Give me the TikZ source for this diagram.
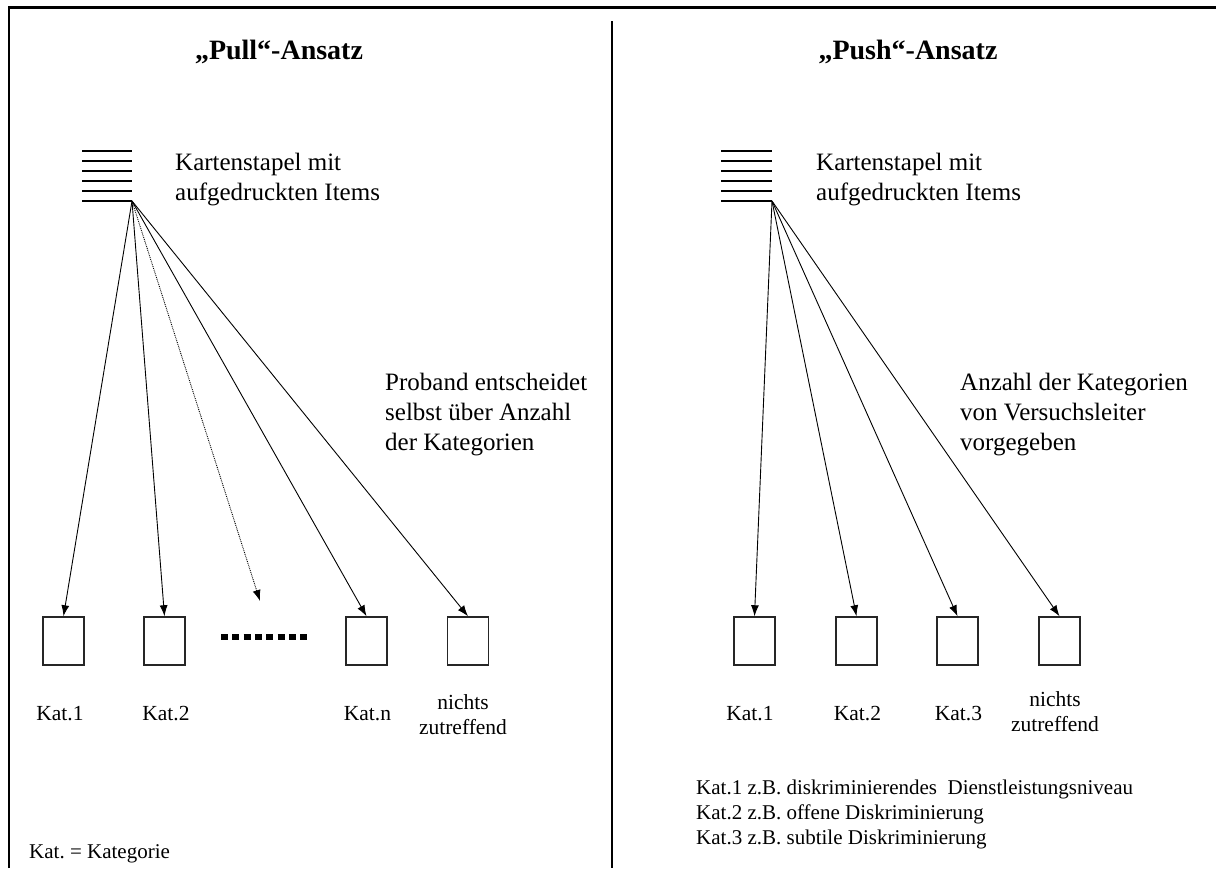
\documentclass[tikz,border=0pt]{standalone}
\usepackage{fontspec}
\setmainfont{Liberation Serif}
\usetikzlibrary{arrows.meta,calc}
\frenchspacing
\begin{document}
\begin{tikzpicture}[x=1pt,y=-1pt,
  frame/.style={line width=2.4pt,black},
  cardline/.style={line width=2.4pt,black},
  catbox/.style={draw=black!85,line width=1.5pt,minimum width=41pt,minimum height=48pt,inner sep=0pt},
  pick/.style={line width=0.9pt,-{Latex[length=11pt,width=8pt]}},
  maybe/.style={pick,densely dotted},
  title/.style={font=\fontsize{28}{32}\selectfont\bfseries,inner sep=0pt,anchor=base},
  body/.style={font=\fontsize{25}{30}\selectfont,align=left,inner sep=0pt,anchor=north west},
  catlabel/.style={font=\fontsize{21.5}{25.5}\selectfont,inner sep=0pt,anchor=base,align=center},
  legend/.style={font=\fontsize{21}{25}\selectfont,align=left,inner sep=0pt}
]
\useasboundingbox (0,0) rectangle (1216,868);

% frame and divider
\draw[frame] (9,868) -- (9,7.5) -- (1216,7.5);
\draw[frame] (612,21) -- (612,868);

% ---------- pull approach ----------
\node[title] (pulltitle) at (279,59) {„Pull“-Ansatz};
\foreach \y in {151,161,171,181,191,201}
  \draw[cardline] (82,\y) -- (132,\y);
\coordinate (pullapex) at (132,201);
\node[body] (pullcards) at (175,153) {Kartenstapel mit\\aufgedruckten Items};
\node[body] (pullnote) at (385,373) {Proband entscheidet\\selbst über Anzahl\\der Kategorien};

\node[catbox] (pk1) at (63.5,641) {};
\node[catbox] (pk2) at (164.5,641) {};
\node[catbox] (pkn) at (366.5,641) {};
\node[catbox] (pkx) at (468,641) {};
\coordinate (pmore) at (260,601);
\coordinate (dotsA) at (221,637);
\coordinate (dotsB) at (309,637);
\draw[line width=6pt,dash pattern=on 7pt off 4.3pt] (dotsA) -- (dotsB);

\draw[pick] (pullapex) -- (pk1.north);
\draw[pick] (pullapex) -- (pk2.north);
\draw[maybe] (pullapex) -- (pmore);
\draw[pick] (pullapex) -- (pkn.north);
\draw[pick] (pullapex) -- (pkx.north);

\node[catlabel] (pl1) at (60,720) {Kat.1};
\node[catlabel] (pl2) at (166,720) {Kat.2};
\node[catlabel] (pln) at (367.5,720) {Kat.n};
\node[catlabel,anchor=north] (plx) at (463,694) {nichts\\zutreffend};
\node[legend,anchor=base west] (pleg) at (29,858) {Kat. = Kategorie};

% ---------- push approach ----------
\node[title] (pushtitle) at (908,59) {„Push“-Ansatz};
\foreach \y in {151,161,171,181,191,201}
  \draw[cardline] (721,\y) -- (772,\y);
\coordinate (pushapex) at (772,201);
\node[body] (pushcards) at (816,153) {Kartenstapel mit\\aufgedruckten Items};
\node[body] (pushnote) at (960,373) {Anzahl der Kategorien\\von Versuchsleiter\\vorgegeben};

\node[catbox] (qk1) at (754.5,641) {};
\node[catbox] (qk2) at (856.5,641) {};
\node[catbox] (qk3) at (957.5,641) {};
\node[catbox] (qkx) at (1059.5,641) {};

\draw[pick] (pushapex) -- (qk1.north);
\draw[pick] (pushapex) -- (qk2.north);
\draw[pick] (pushapex) -- (qk3.north);
\draw[pick] (pushapex) -- (qkx.north);

\node[catlabel] (ql1) at (750,720) {Kat.1};
\node[catlabel] (ql2) at (857.5,720) {Kat.2};
\node[catlabel] (ql3) at (958.5,720) {Kat.3};
\node[catlabel,anchor=north] (qlx) at (1055,691) {nichts\\zutreffend};
\node[legend,anchor=north west] (qleg) at (696,780)
  {Kat.1 z.B. diskriminierendes\ \ Dienstleistungsniveau\\
   Kat.2 z.B. offene Diskriminierung\\
   Kat.3 z.B. subtile Diskriminierung};
\end{tikzpicture}
\end{document}
